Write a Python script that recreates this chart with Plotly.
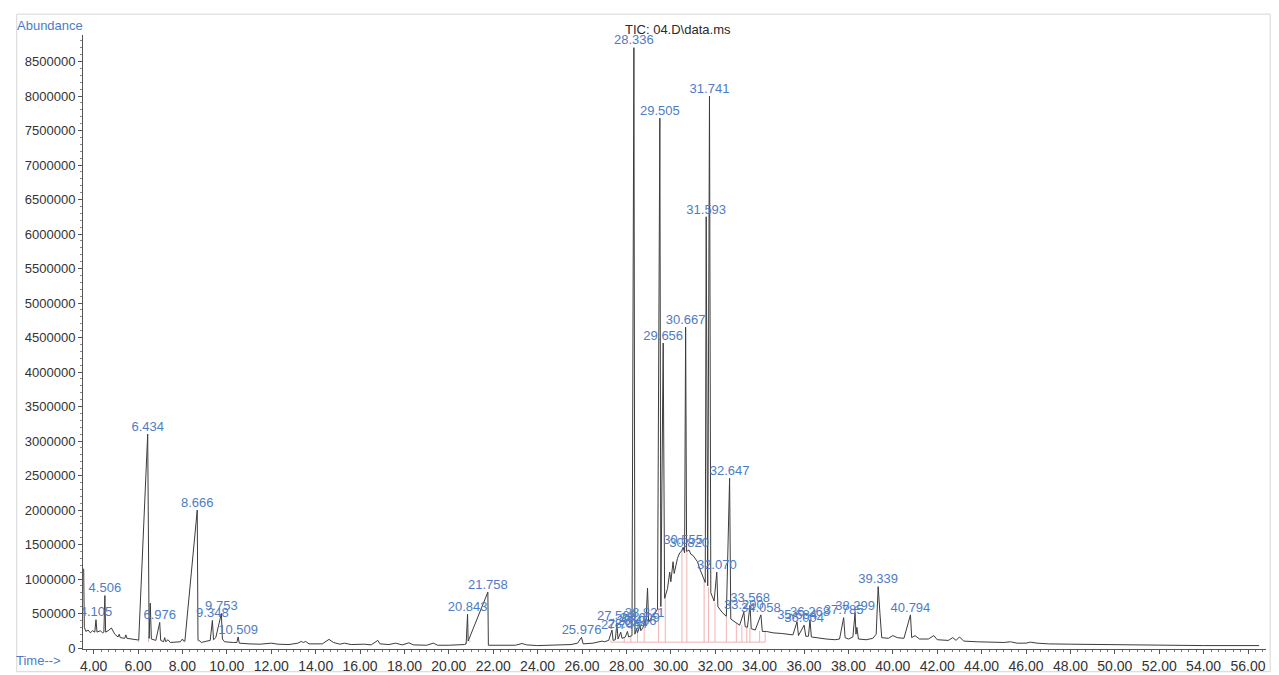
import plotly.graph_objects as go

# ---------------- data ----------------
time_min = [
    3.55, 3.58, 3.65, 3.75, 3.85, 3.95, 4.05, 4.105, 4.15, 4.30, 4.40, 4.46, 4.506, 4.54, 4.65, 4.80,
    4.95, 5.10, 5.15, 5.20, 5.40, 5.45, 5.50, 5.80, 6.03, 6.434, 6.47, 6.50, 6.55, 6.60, 6.80, 6.976,
    7.02, 7.15, 7.20, 7.25, 7.35, 7.45, 7.90, 8.00, 8.05, 8.11, 8.666, 8.70, 8.75, 8.85, 9.10, 9.25,
    9.348, 9.40, 9.50, 9.753, 9.80, 9.90, 10.30, 10.45, 10.509, 10.56, 11.00, 11.50, 12.00, 12.30,
    12.80, 13.20, 13.35, 13.45, 13.55, 13.70, 14.30, 14.60, 14.80, 15.10, 15.30, 15.60, 16.20, 16.50,
    16.80, 16.90, 17.30, 17.60, 17.90, 18.20, 18.40, 19.00, 19.30, 19.50, 20.00, 20.50, 20.70, 20.78,
    20.843, 20.87, 21.758, 21.78, 22.00, 22.50, 23.00, 23.30, 23.50, 24.00, 24.50, 25.00, 25.50, 25.80,
    25.976, 26.05, 26.50, 26.90, 27.00, 27.20, 27.35, 27.40, 27.50, 27.569, 27.62, 27.745, 27.80, 27.95,
    28.044, 28.10, 28.25, 28.336, 28.38, 28.456, 28.50, 28.609, 28.65, 28.75, 28.821, 28.87, 28.95, 29.00,
    29.20, 29.40, 29.505, 29.55, 29.656, 29.72, 29.85, 29.95, 30.00, 30.10, 30.15, 30.30, 30.40, 30.48,
    30.555, 30.62, 30.667, 30.71, 30.820, 30.90, 31.00, 31.10, 31.20, 31.30, 31.40, 31.55, 31.593, 31.66,
    31.741, 31.80, 31.95, 32.070, 32.12, 32.30, 32.50, 32.647, 32.70, 32.90, 33.10, 33.290, 33.35, 33.45,
    33.568, 33.62, 33.80, 34.058, 34.12, 34.30, 34.60, 35.00, 35.30, 35.50, 35.684, 35.75, 36.004, 36.08,
    36.20, 36.268, 36.33, 36.60, 37.00, 37.40, 37.60, 37.785, 37.85, 38.00, 38.20, 38.299, 38.34, 38.38,
    38.45, 38.80, 39.10, 39.25, 39.339, 39.42, 39.50, 39.80, 40.00, 40.20, 40.50, 40.794, 40.85, 41.00,
    41.20, 41.60, 41.85, 42.00, 42.50, 42.70, 42.85, 43.00, 43.20, 43.80, 44.50, 45.00, 45.30, 45.60,
    46.00, 46.20, 46.50, 47.00, 48.00, 50.00, 52.00, 54.00, 56.50,
]
abundance = [
    1150000, 300000, 240000, 260000, 220000, 250000, 230000, 410000, 230000, 250000, 220000, 230000, 760000, 230000, 250000, 290000,
    200000, 160000, 200000, 150000, 140000, 190000, 140000, 120000, 115000, 3100000, 160000, 140000, 650000, 130000, 110000, 370000,
    110000, 90000, 150000, 90000, 120000, 80000, 90000, 130000, 100000, 100000, 2000000, 120000, 110000, 80000, 100000, 110000,
    400000, 120000, 150000, 500000, 130000, 90000, 80000, 80000, 160000, 70000, 60000, 55000, 70000, 55000,
    50000, 70000, 95000, 80000, 95000, 60000, 60000, 125000, 80000, 55000, 70000, 50000, 55000, 45000,
    110000, 60000, 50000, 70000, 45000, 75000, 45000, 40000, 70000, 40000, 40000, 45000, 50000, 60000,
    490000, 100000, 810000, 40000, 40000, 45000, 40000, 65000, 45000, 35000, 40000, 35000, 50000, 70000,
    155000, 60000, 70000, 100000, 90000, 110000, 260000, 110000, 120000, 360000, 130000, 230000, 140000, 160000,
    240000, 160000, 180000, 8700000, 200000, 280000, 220000, 330000, 250000, 300000, 400000, 320000, 870000, 380000,
    480000, 560000, 7680000, 600000, 4420000, 720000, 860000, 1100000, 960000, 1250000, 1080000, 1300000, 1380000, 1400000,
    1460000, 1380000, 4650000, 1400000, 1420000, 1360000, 1340000, 1300000, 1250000, 1150000, 1080000, 950000, 6250000, 900000,
    8000000, 800000, 680000, 1100000, 600000, 520000, 460000, 2460000, 420000, 370000, 330000, 520000, 310000, 300000,
    620000, 280000, 260000, 480000, 240000, 240000, 220000, 210000, 200000, 190000, 380000, 180000, 330000, 170000,
    170000, 410000, 160000, 145000, 130000, 120000, 130000, 440000, 150000, 130000, 160000, 510000, 200000, 300000,
    130000, 120000, 140000, 200000, 890000, 500000, 150000, 140000, 180000, 150000, 140000, 480000, 150000, 180000,
    130000, 130000, 180000, 120000, 110000, 150000, 110000, 160000, 100000, 90000, 80000, 80000, 90000, 70000,
    70000, 85000, 70000, 60000, 55000, 45000, 40000, 35000, 35000,
]

# labelled peaks (retention time text, apex abundance)
peak_labels = [
    "4.105", "4.506", "6.434", "6.976", "8.666", "9.348", "9.753", "10.509", "20.843", "21.758",
    "25.976", "27.569", "27.745", "28.044", "28.456", "28.609", "28.821", "28.336", "29.505", "29.656",
    "30.555", "30.667", "30.820", "31.593", "31.741", "32.070", "32.647", "33.290", "33.568", "34.058",
    "35.684", "36.004", "36.268", "37.785", "38.299", "39.339", "40.794",
]
peak_heights = [
    410000, 760000, 3100000, 370000, 2000000, 400000, 500000, 160000, 490000, 810000,
    155000, 360000, 230000, 240000, 280000, 330000, 400000, 8700000, 7680000, 4420000,
    1460000, 4650000, 1420000, 6250000, 8000000, 1100000, 2460000, 520000, 620000, 480000,
    380000, 330000, 410000, 440000, 510000, 890000, 480000,
]
labels_clipped_by_axis = ["4.105"]

# integration marks (peak start / end events)
integ_times = [6.03, 6.47, 8.11, 8.70, 20.75, 20.95, 27.30, 27.90, 28.20, 28.50, 28.80, 29.45, 29.75,
               30.50, 30.72, 31.50, 31.70, 31.99, 32.50, 32.95, 33.20, 33.42, 33.56, 34.00, 34.25]
integ_tops = [115000, 160000, 100000, 120000, 60000, 110000, 110000, 150000, 170000, 220000, 300000, 580000, 760000,
              1420000, 1400000, 1000000, 880000, 660000, 460000, 360000, 330000, 300000, 290000, 250000, 240000]
integ_base = 85000
cluster_span = [27.30, 34.25]

y_ticks = list(range(0, 8500001, 500000))
x_ticks = [4 + 2 * i for i in range(27)]
title_text = "TIC: 04.D\\data.ms"

BLUE = "#4d7cc6"
PINK = "#efb2b2"
FONT = "Arial, Liberation Sans, sans-serif"

fig = go.Figure()

# integration marks (pink)
px_, py_ = [], []
for t, top in zip(integ_times, integ_tops):
    px_ += [t, t, None]
    py_ += [integ_base, top, None]
px_ += [cluster_span[0], cluster_span[1], None]
py_ += [integ_base, integ_base, None]
fig.add_trace(go.Scatter(x=px_, y=py_, mode="lines", line=dict(color=PINK, width=1),
                         hoverinfo="skip", showlegend=False))

# chromatogram
fig.add_trace(go.Scatter(x=time_min, y=abundance, mode="lines",
                         line=dict(color="#3c3c3c", width=1), showlegend=False))

# peak labels (text traces; the label next to the axis is clipped by it, as in the print)
for clip in (False, True):
    sel = [(lab, h) for lab, h in zip(peak_labels, peak_heights)
           if (lab in labels_clipped_by_axis) == clip]
    fig.add_trace(go.Scatter(
        x=[float(lab) for lab, _ in sel], y=[h for _, h in sel], text=[lab for lab, _ in sel],
        mode="text", textposition="top center", cliponaxis=clip,
        textfont=dict(family=FONT, size=13, color=BLUE), hoverinfo="skip", showlegend=False))

fig.add_annotation(xref="paper", yref="paper", x=0.503, y=1.0, text=title_text, showarrow=False,
                   xanchor="center", yanchor="bottom", yshift=-4,
                   font=dict(family=FONT, size=13, color="#2a2a2a"))
fig.add_annotation(xref="paper", yref="paper", x=0.0, y=1.0, text="Abundance", showarrow=False,
                   xanchor="right", yanchor="bottom", xshift=2, yshift=0,
                   font=dict(family=FONT, size=13, color=BLUE))
fig.add_annotation(xref="paper", yref="paper", x=0.0, y=0.0, text="Time-->", showarrow=False,
                   xanchor="right", yanchor="top", xshift=-20, yshift=-2,
                   font=dict(family=FONT, size=13, color=BLUE))

# light frame around the chart
fig.add_shape(type="rect", xref="paper", yref="paper", x0=-0.056, x1=1.0035, y0=-0.037, y1=1.034,
              line=dict(color="#d6d6d6", width=1), layer="below")

fig.update_layout(
    width=1279, height=675,
    margin=dict(l=83, r=13, t=35, b=26),
    paper_bgcolor="white", plot_bgcolor="white",
    font=dict(family=FONT, color="#333333"),
    xaxis=dict(range=[3.52, 56.81], tickvals=x_ticks, ticktext=[f"{v:.2f}" for v in x_ticks],
               automargin=False,
               showgrid=False, zeroline=False, showline=True, linecolor="#555555", linewidth=1,
               ticks="outside", ticklen=4, tickcolor="#555555",
               tickfont=dict(family=FONT, size=14, color="#333333"),
               minor=dict(dtick=1/3, tick0=4, ticks="outside", ticklen=2, tickcolor="#777777")),
    yaxis=dict(range=[-14500, 8884000], tickvals=y_ticks, ticktext=[str(v) for v in y_ticks],
               automargin=False,
               showgrid=False, zeroline=False, showline=True, linecolor="#555555", linewidth=1,
               ticks="outside", ticklen=4, tickcolor="#555555",
               tickfont=dict(family=FONT, size=13, color="#333333"),
               minor=dict(dtick=100000, ticks="outside", ticklen=2, tickcolor="#888888")),
)

# remove the default 8px page margin so the 1279x675 figure fills the window exactly
fig.write_html("out.html", config={"displayModeBar": False},
               post_script="document.body.style.margin='0';document.body.style.overflow='hidden';")
